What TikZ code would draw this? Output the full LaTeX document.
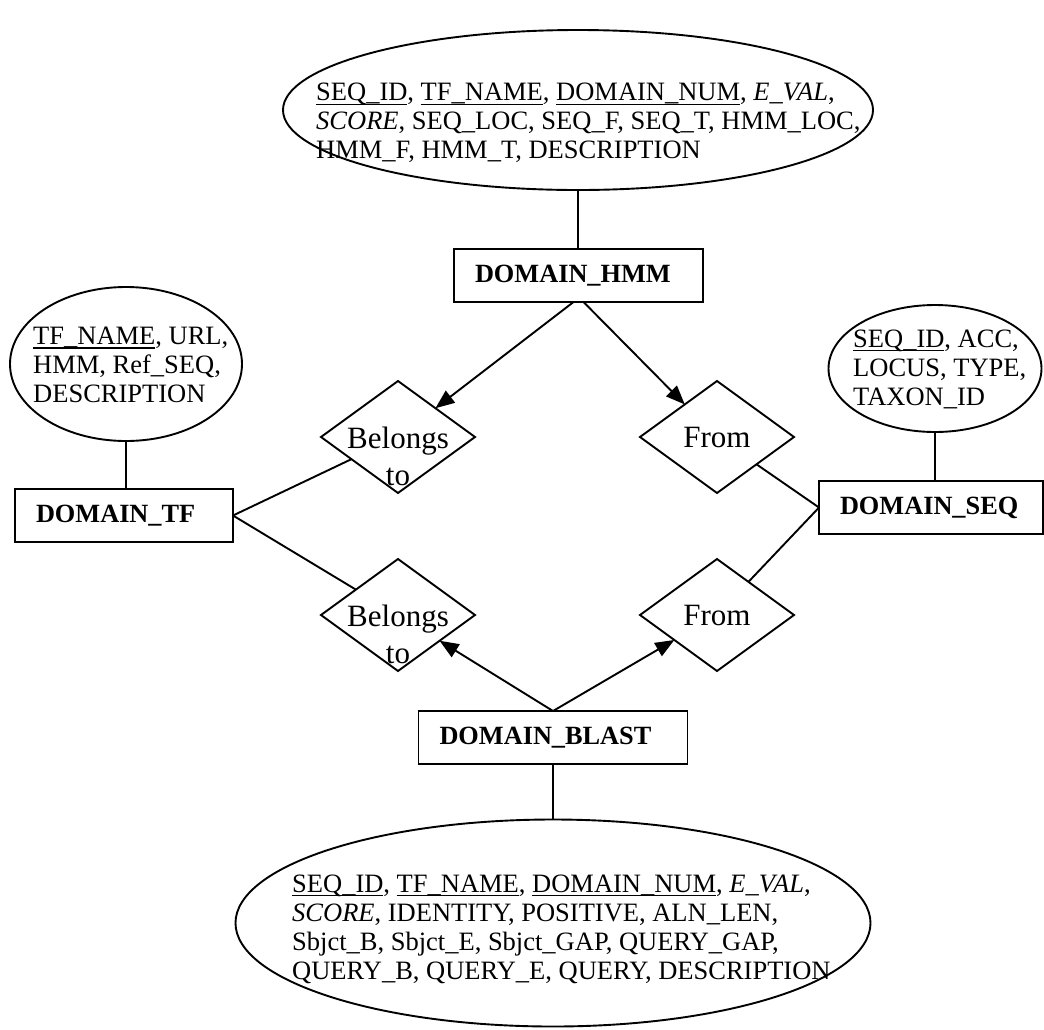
\documentclass[tikz,border=0pt]{standalone}
\usepackage{fontspec}
\setmainfont{Liberation Serif}
\usetikzlibrary{shapes.geometric,arrows.meta}
\newcommand\ulk[1]{\setbox0\hbox{#1}\rlap{\rule[-0.16em]{\wd0}{0.055em}}\box0}
\tikzset{
 ln/.style={line width=1.9pt},
 attr/.style={draw, ellipse, line width=1.9pt, inner sep=0pt, outer sep=0pt},
 attrtext/.style={anchor=west, align=left, inner sep=0pt, font=\fontsize{26.5}{29}\selectfont},
 entity/.style={draw, rectangle, line width=1.9pt, inner ysep=0pt, inner xsep=21pt, outer sep=0pt, align=left, minimum height=53pt, font=\fontsize{26.3}{30}\selectfont\bfseries},
 rel/.style={draw, diamond, line width=1.9pt, inner sep=0pt, outer sep=0pt, minimum width=154pt, minimum height=112pt},
 reltext/.style={align=center, inner sep=0pt, font=\fontsize{31}{37}\selectfont},
 arr/.style={line width=1.9pt, -{Triangle[length=19pt,width=15pt]}},
}
\begin{document}
\begin{tikzpicture}[x=1pt,y=-1pt]
\useasboundingbox (0,0) rectangle (1044,1029);
% attribute ellipses
\node[attr, minimum width=590pt, minimum height=160pt] (etop) at (578,110) {};
\node[attrtext] (ttop) at (316,123) {\ulk{SEQ\_ID}, \ulk{TF\_NAME}, \ulk{DOMAIN\_NUM}, \textit{E\_VAL},\\
\textit{SCORE}, SEQ\_LOC, SEQ\_F, SEQ\_T, HMM\_LOC,\\
HMM\_F, HMM\_T, DESCRIPTION};
\node[attr, minimum width=232pt, minimum height=154pt] (eleft) at (126,364) {};
\node[attrtext] (tleft) at (33,365) {\ulk{TF\_NAME}, URL,\\ HMM, Ref\_SEQ,\\ DESCRIPTION};
\node[attr, minimum width=213pt, minimum height=127pt] (eright) at (935,368.5) {};
\node[attrtext] (tright) at (853,369) {\ulk{SEQ\_ID}, ACC,\\ LOCUS, TYPE,\\ TAXON\_ID};
\node[attr, minimum width=635pt, minimum height=207pt] (ebot) at (553,923) {};
\node[attrtext] (tbot) at (292,929) {\ulk{SEQ\_ID}, \ulk{TF\_NAME}, \ulk{DOMAIN\_NUM}, \textit{E\_VAL},\\
\textit{SCORE}, IDENTITY, POSITIVE, ALN\_LEN,\\
Sbjct\_B, Sbjct\_E, Sbjct\_GAP, QUERY\_GAP,\\
QUERY\_B, QUERY\_E, QUERY, DESCRIPTION};
% entities
\node[entity, minimum width=249pt, text width=207pt] (hmm) at (578.5,275.5) {DOMAIN\_HMM};
\node[entity, minimum width=218pt, text width=176pt] (tf) at (124,515.5) {DOMAIN\_TF};
\node[entity, minimum width=224pt, text width=182pt] (seq) at (931,507.5) {DOMAIN\_SEQ};
\node[entity, minimum width=269pt, text width=227pt] (blast) at (553,737.5) {DOMAIN\_BLAST};
% relationships
\node[rel] (b1) at (398,437) {};
\node[reltext] (b1t) at (398,456) {Belongs\\to};
\node[rel] (f1) at (717,437) {};
\node[reltext] (f1t) at (717,437) {From};
\node[rel] (b2) at (398,615) {};
\node[reltext] (b2t) at (398,634) {Belongs\\to};
\node[rel] (f2) at (717,615) {};
\node[reltext] (f2t) at (717,615) {From};
% connectors
\draw[ln] (etop.south) -- (etop.south |- hmm.north);
\draw[ln] (eleft.south) -- (eleft.south |- tf.north);
\draw[ln] (eright.south) -- (eright.south |- seq.north);
\draw[ln] (blast.south) -- (blast.south |- ebot.north);
\draw[arr] ([xshift=-5pt]hmm.south) -- (b1);
\draw[arr] ([xshift=5pt]hmm.south) -- (f1);
\draw[ln] (tf.east) -- (b1);
\draw[ln] (tf.east) -- (b2);
\draw[ln] (seq.west) -- (f1);
\draw[ln] (seq.west) -- (f2);
\draw[arr] (blast.north) -- (b2);
\draw[arr] (blast.north) -- (f2);
\end{tikzpicture}
\end{document}
